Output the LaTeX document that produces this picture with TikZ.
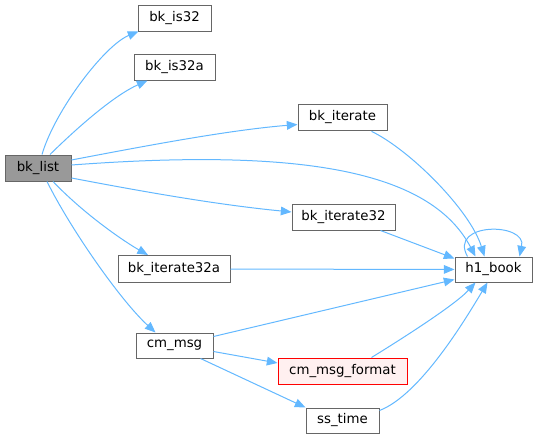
\documentclass[tikz,border=0pt]{standalone}
\usepackage{fontspec}
\setmainfont{DejaVu Sans}
\usetikzlibrary{arrows.meta,calc}
\definecolor{edgeblue}{HTML}{63B8FF}
\definecolor{nodegray}{HTML}{666666}
\definecolor{fillgray}{HTML}{999999}
\definecolor{fillpink}{HTML}{FFF0F0}
\tikzset{
  fnbox/.style={draw=nodegray, line width=0.75pt, fill=white, inner sep=0pt,
    minimum height=19.5pt, font=\fontsize{10}{12}\selectfont, text=black},
  curbox/.style={fnbox, fill=fillgray},
  redbox/.style={fnbox, draw=red, fill=fillpink},
  edge/.style={draw=edgeblue, line width=0.75pt,
    -{Triangle[length=8pt,width=6.5pt]}}
}
\begin{document}
\begin{tikzpicture}[x=0.75pt,y=-0.75pt]
\useasboundingbox (0,0) rectangle (537,439);
\node[curbox, minimum width=49.5pt] (bklist) at (38,168) {bk\_list};
\node[fnbox, minimum width=54.75pt] (bkis32) at (174.5,18) {bk\_is32};
\node[fnbox, minimum width=60.75pt] (bkis32a) at (174.5,67) {bk\_is32a};
\node[fnbox, minimum width=66.75pt, minimum height=20pt] (bkiterate) at (342.5,117.5) {bk\_iterate};
\node[fnbox, minimum width=77.25pt] (bkiterate32) at (343.5,217) {bk\_iterate32};
\node[fnbox, minimum width=84pt, minimum height=20.25pt] (bkiterate32a) at (174,269) {bk\_iterate32a};
\node[fnbox, minimum width=57.75pt, minimum height=18.75pt] (h1book) at (493.5,269.5) {h1\_book};
\node[fnbox, minimum width=57.75pt, minimum height=18.75pt] (cmmsg) at (174.5,345.5) {cm\_msg};
\node[redbox, minimum width=96.75pt] (cmmsgformat) at (342.5,371) {cm\_msg\_format};
\node[fnbox, minimum width=54.75pt, minimum height=18.75pt] (sstime) at (342.5,420.5) {ss\_time};

\draw[edge] ($(bklist.north)+(4,0)$) .. controls (55,110) and (105,45) .. ($(bkis32.south west)+(1,0)$);
\draw[edge] ($(bklist.north)+(12,0)$) .. controls (80,125) and (115,95) .. ($(bkis32a.south west)+(14,0)$);
\draw[edge] ($(bklist.east)+(0,-8)$) .. controls (150,145) and (230,130) .. ($(bkiterate.west)+(0,7)$);
\draw[edge] ($(bklist.east)+(0,-3)$) .. controls (300,148) and (430,170) .. ($(h1book.north)+(-18,0)$);
\draw[edge] ($(bkiterate.south)+(29,0)$) .. controls (410,150) and (470,210) .. ($(h1book.north)+(-9,0)$);
\draw[edge] ($(h1book.north)+(-26,0)$) .. controls (448,222) and (527,222) .. ($(h1book.north)+(26,0)$);
\draw[edge] ($(bklist.east)+(0,10)$) .. controls (150,193) and (220,205) .. ($(bkiterate32.west)+(0,-5)$);
\draw[edge] ($(bklist.south)+(15,0)$) .. controls (85,215) and (125,242) .. ($(bkiterate32a.north)+(-26,0)$);
\draw[edge] ($(bklist.south)+(9,0)$) .. controls (70,228) and (120,300) .. ($(cmmsg.north)+(-19,0)$);
\draw[edge] ($(bkiterate32.south)+(37,0)$) -- ($(h1book.west)+(0,-11)$);
\draw[edge] (bkiterate32a) -- (h1book);
\draw[edge] ($(cmmsg.east)+(0,-9)$) -- ($(h1book.west)+(0,10)$);
\draw[edge] ($(cmmsgformat.north)+(29,0)$) .. controls (400,340) and (455,305) .. ($(h1book.south)+(-18,0)$);
\draw[edge] ($(sstime.east)+(0,-10)$) .. controls (420,395) and (465,320) .. ($(h1book.south)+(-6,0)$);
\draw[edge] ($(cmmsg.east)+(0,6)$) -- ($(cmmsgformat.west)+(0,-8)$);
\draw[edge] ($(cmmsg.south)+(26,0)$) -- (sstime.north west);
\end{tikzpicture}
\end{document}
